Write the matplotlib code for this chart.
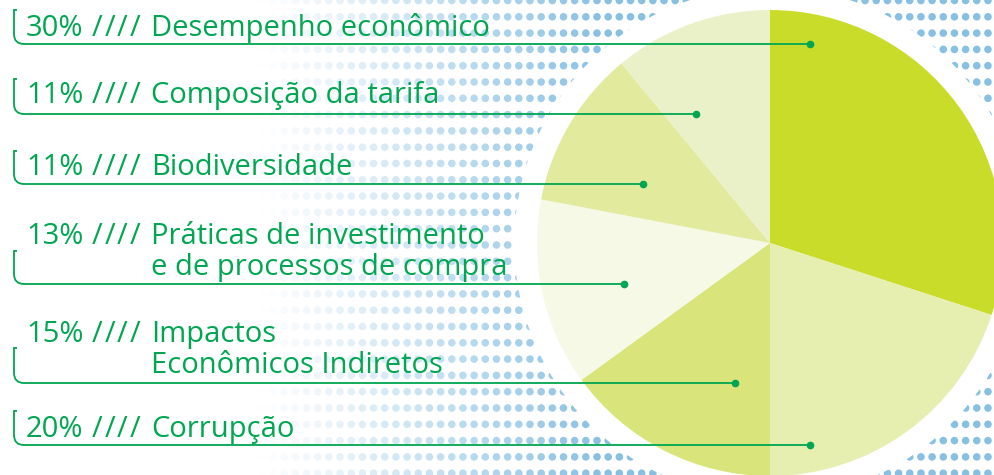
import numpy as np
import matplotlib
matplotlib.use("Agg")
from matplotlib import pyplot as plt
from matplotlib.patches import Circle
from matplotlib.path import Path
from matplotlib.patches import PathPatch

# shares, clockwise from 12 o'clock
topics = ["Desempenho econômico", "Corrupção", "Impactos\nEconômicos Indiretos",
          "Práticas de investimento\ne de processos de compra",
          "Biodiversidade", "Composição da tarifa"]
shares = [30, 20, 15, 13, 11, 11]
colors = ["#CADC2A", "#E6EEB0", "#D9E47A", "#F5F9E6", "#E2EA9E", "#EAF1C8"]

# label order on the left (top -> bottom), index into topics
label_order = [0, 5, 4, 3, 2, 1]

W, H = 994, 475
green = "#00A651"
dot_blue = np.array([136, 192, 228]) / 255

fig = plt.figure(figsize=(W / 100, H / 100), dpi=100)
ax = fig.add_axes([0, 0, 1, 1])
ax.set_xlim(0, W)
ax.set_ylim(0, H)
ax.set_aspect("equal")
ax.axis("off")

def fy(y):
    # image row -> data y
    return H - y

# dotted halftone background, fading out to the left
xs = np.arange(485.3 - 11.17 * 40, W + 6, 11.17)
ys = np.arange(65.7 - 16.3 * 4, H + 8, 16.3)
gx, gy = np.meshgrid(xs, ys)
gx, gy = gx.ravel(), gy.ravel()
alpha = np.clip((gx - 260) / 340, 0, 1) ** 1.1
rgba = np.zeros((len(gx), 4))
rgba[:, :3] = dot_blue
rgba[:, 3] = alpha
ax.scatter(gx, fy(gy), s=30, c=rgba, linewidths=0, zorder=1)

cx, cy, r = 770, fy(243), 233
ax.add_patch(Circle((cx, cy), 255, color="white", zorder=2))
ax.pie(shares, colors=colors, startangle=90, counterclock=False,
       radius=r, center=(cx, cy), frame=True,
       wedgeprops=dict(linewidth=0, zorder=3))
ax.set_xlim(0, W)
ax.set_ylim(0, H)
ax.axis("off")

# label layout (image rows): bracket top, leader y, dot x, text baselines
bracket_top = [10, 79, 151, 251, 348, 411]
leader_y = [44, 114, 184, 284, 383, 445]
dot_x = [810, 696, 643, 624, 735, 810]
baselines = [36, 103, 175, 244, 342, 437]

plt.rcParams["font.family"] = ["Open Sans", "DejaVu Sans"]
txt = dict(fontsize=21, color=green, va="baseline", ha="left", zorder=7)
bx, rad = 14, 10
for k, i in enumerate(label_order):
    top, ly, dx = bracket_top[k], leader_y[k], dot_x[k]
    verts = [(bx + 3, fy(top)), (bx, fy(top)), (bx, fy(ly - rad)),
             (bx, fy(ly)), (bx + rad, fy(ly)), (dx, fy(ly))]
    codes = [Path.MOVETO, Path.LINETO, Path.LINETO,
             Path.CURVE3, Path.CURVE3, Path.LINETO]
    ax.add_patch(PathPatch(Path(verts, codes), fill=False, edgecolor=green,
                           linewidth=1.3, zorder=5, capstyle="butt"))
    ax.plot([dx], [fy(ly)], "o", color=green, markersize=4.5, zorder=6)

    base = fy(baselines[k])
    ax.text(26, base, f"{shares[i]}%", **txt)
    for s in range(4):
        ax.text(92 + 12.5 * s, base, "/", **txt)
    for j, line in enumerate(topics[i].split("\n")):
        ax.text(151, fy(baselines[k] + 31 * j), line, **txt)

fig.savefig("out.png", dpi=100)
